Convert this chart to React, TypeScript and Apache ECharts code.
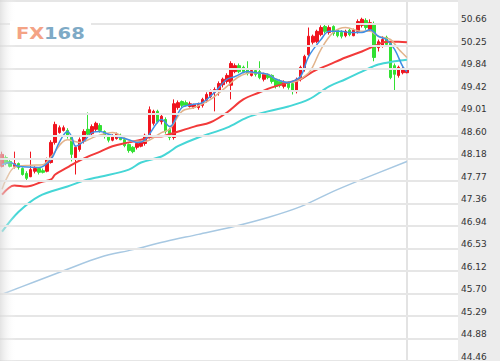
import React, { useEffect, useRef } from "react";
import * as echarts from "echarts";

// ---- data ----
const CATEGORY_COUNT = 112;
const categories: string[] = Array.from({ length: CATEGORY_COUNT }, (_, i) => `D${i + 1}`);

// [open, close, low, high]
const ohlc: number[][] = [
  [48.04, 48.26, 48.02, 48.31], [48.20, 48.09, 48.06, 48.24], [48.13, 48.04, 48.02, 48.17], [48.04, 48.09, 48.00, 48.31],
  [48.09, 48.02, 47.98, 48.11], [48.00, 47.89, 47.87, 48.02], [47.91, 47.82, 47.78, 47.95], [47.85, 47.98, 47.84, 48.31],
  [47.95, 48.00, 47.91, 48.04], [48.00, 47.93, 47.89, 48.02], [47.96, 47.93, 47.91, 48.00], [47.95, 48.17, 47.93, 48.20],
  [48.11, 48.48, 48.09, 48.52], [48.48, 48.81, 48.44, 48.86], [48.66, 48.75, 48.64, 48.79], [48.70, 48.75, 48.68, 48.79],
  [48.70, 48.59, 48.55, 48.74], [48.57, 48.26, 48.13, 48.61], [48.20, 48.39, 47.89, 48.42], [48.35, 48.53, 48.31, 48.57],
  [48.50, 48.68, 48.46, 48.72], [48.72, 48.63, 48.59, 49.03], [48.64, 48.77, 48.61, 48.81], [48.72, 48.83, 48.68, 48.86],
  [48.79, 48.70, 48.66, 48.83], [48.68, 48.59, 48.55, 48.70], [48.61, 48.52, 48.48, 48.64], [48.52, 48.59, 48.50, 48.63],
  [48.55, 48.63, 48.53, 48.66], [48.61, 48.53, 48.52, 48.64], [48.53, 48.42, 48.39, 48.57], [48.44, 48.33, 48.29, 48.46],
  [48.39, 48.31, 48.28, 48.41], [48.39, 48.46, 48.35, 48.50], [48.41, 48.48, 48.39, 48.52], [48.46, 48.61, 48.42, 48.64],
  [48.57, 49.08, 48.55, 49.14], [48.83, 49.05, 48.79, 49.08], [49.05, 48.86, 48.83, 49.08], [48.86, 48.96, 48.81, 48.99],
  [48.90, 48.68, 48.64, 48.94], [48.72, 48.57, 48.52, 48.75], [48.57, 49.19, 48.53, 49.27], [49.12, 49.21, 49.08, 49.25],
  [49.23, 49.16, 49.12, 49.25], [49.21, 49.16, 49.14, 49.25], [49.14, 49.19, 49.12, 49.23], [49.12, 49.18, 49.10, 49.19],
  [49.12, 49.18, 49.08, 49.21], [49.16, 49.27, 49.12, 49.30], [49.25, 49.36, 49.21, 49.40], [49.32, 49.42, 49.29, 49.45],
  [49.40, 49.45, 49.05, 49.49], [49.42, 49.56, 49.34, 49.60], [49.54, 49.64, 49.49, 49.67], [49.60, 49.71, 49.56, 49.75],
  [49.53, 49.93, 49.27, 49.97], [49.78, 49.89, 49.75, 49.93], [49.89, 49.78, 49.75, 49.93], [49.86, 49.78, 49.75, 49.89],
  [49.82, 49.75, 49.71, 49.97], [49.71, 49.80, 49.69, 49.84], [49.80, 49.73, 49.69, 49.82], [49.78, 49.67, 49.64, 49.97],
  [49.64, 49.73, 49.60, 49.76], [49.73, 49.67, 49.64, 49.75], [49.71, 49.60, 49.56, 49.73], [49.64, 49.51, 49.47, 49.65],
  [49.60, 49.53, 49.49, 49.64], [49.51, 49.58, 49.47, 49.62], [49.58, 49.49, 49.45, 49.60], [49.56, 49.42, 49.36, 49.60],
  [49.42, 49.64, 49.38, 49.67], [49.64, 49.86, 49.60, 49.89], [49.82, 50.06, 49.78, 50.09], [50.09, 50.43, 50.06, 50.59],
  [50.32, 50.43, 50.28, 50.46], [50.33, 50.52, 50.30, 50.55], [50.46, 50.59, 50.43, 50.63], [50.61, 50.52, 50.48, 50.65],
  [50.50, 50.59, 50.46, 50.63], [50.61, 50.48, 50.44, 50.63], [50.54, 50.44, 50.41, 50.55], [50.50, 50.43, 50.39, 50.54],
  [50.44, 50.52, 50.41, 50.55], [50.54, 50.46, 50.43, 50.57], [50.44, 50.54, 50.43, 50.57], [50.52, 50.70, 50.48, 50.74],
  [50.63, 50.74, 50.59, 50.77], [50.72, 50.59, 50.55, 50.76], [50.55, 50.68, 50.52, 50.74], [50.66, 50.04, 49.97, 50.70],
  [50.22, 50.33, 50.15, 50.37], [50.26, 50.37, 50.22, 50.43], [50.41, 50.28, 50.24, 50.44], [50.30, 49.67, 49.64, 50.33],
  [49.89, 49.73, 49.42, 49.93], [49.71, 49.86, 49.67, 49.89], [49.76, 49.82, 49.73, 49.86], [49.76, 49.82, 49.75, 49.84],
];

// moving averages as [category index, value]
const maBlue: number[][] = [
  [0, 48.07], [2, 48.11], [4, 48.04], [9, 48.02], [12, 48.17], [14, 48.48], [16, 48.68], [17, 48.59], [18, 48.41],
  [20, 48.5], [22, 48.66], [24, 48.68], [26, 48.63], [31, 48.53], [33, 48.48], [35, 48.53], [38, 48.85], [39, 48.9],
  [41, 48.77], [44, 49.12], [47, 49.18], [49, 49.21], [52, 49.4], [55, 49.64], [57, 49.69], [60, 49.78], [62, 49.76],
  [65, 49.73], [67, 49.64], [70, 49.58], [71, 49.6], [73, 49.69], [75, 50.06], [78, 50.37], [80, 50.52], [83, 50.52],
  [85, 50.5], [88, 50.5], [90, 50.55], [92, 50.43], [94, 50.37], [96, 50.19], [98, 49.87], [99, 49.78],
];
const maTan: number[][] = [
  [0, 47.62], [1, 47.8], [3, 48.02], [7, 48.06], [10, 48.07], [12, 48.22], [16, 48.53], [19, 48.48], [23, 48.59],
  [27, 48.66], [32, 48.5], [35, 48.5], [39, 48.66], [41, 48.72], [44, 49.05], [47, 49.12], [51, 49.27], [55, 49.51],
  [58, 49.69], [61, 49.76], [65, 49.73], [67, 49.64], [70, 49.58], [72, 49.6], [75, 49.76], [76, 49.87], [78, 50.19],
  [81, 50.5], [84, 50.59], [88, 50.52], [90, 50.52], [92, 50.43], [95, 50.37], [97, 50.19], [99, 50.04],
];
const maRed: number[][] = [
  [0, 47.52], [3, 47.69], [6, 47.67], [10, 47.76], [12, 47.8], [13, 47.89], [16, 48.02], [18, 48.11], [21, 48.22],
  [24, 48.31], [27, 48.41], [31, 48.48], [34, 48.53], [37, 48.59], [39, 48.59], [41, 48.63], [47, 48.77], [51, 48.85],
  [55, 49.03], [59, 49.27], [63, 49.4], [66, 49.49], [70, 49.58], [73, 49.64], [76, 49.78], [80, 49.91], [84, 50.04],
  [88, 50.15], [92, 50.28], [94, 50.33], [97, 50.33], [99, 50.32],
];
const maCyan: number[][] = [
  [0, 46.84], [4, 47.2], [9, 47.49], [16, 47.67], [21, 47.8], [24, 47.85], [31, 47.98], [34, 48.11], [39, 48.22],
  [41, 48.31], [43, 48.41], [48, 48.57], [55, 48.75], [60, 48.94], [65, 49.05], [70, 49.14], [75, 49.27], [80, 49.51],
  [84, 49.64], [88, 49.78], [92, 49.91], [96, 49.97], [99, 50.0],
];
const maLong: number[][] = [
  [0, 45.69], [8, 45.92], [16, 46.15], [24, 46.37], [32, 46.51], [40, 46.66], [48, 46.79], [57, 46.94], [65, 47.1],
  [73, 47.3], [81, 47.58], [88, 47.8], [99, 48.13],
];

const Y_MIN = 44.464;
const Y_STEP = 6.2 / 15;
const Y_TICKS = 16;

const UP = "#f0141e";
const DOWN = "#33e033";

function lineSeries(data: number[][], color: string, width: number) {
  return {
    type: "line",
    data,
    smooth: 0.35,
    symbol: "none",
    silent: true,
    z: 3,
    lineStyle: { color, width },
  };
}

export default function App() {
  const ref = useRef<HTMLDivElement>(null);
  useEffect(() => {
    if (!ref.current) return;
    const chart = echarts.init(ref.current, undefined, { renderer: "svg" });
    chart.setOption({
      animation: false,
      backgroundColor: "#ffffff",
      grid: { left: 0, right: 42, top: 1, bottom: 0, containLabel: false },
      xAxis: {
        type: "category",
        data: categories,
        boundaryGap: true,
        show: false,
      },
      yAxis: {
        type: "value",
        position: "right",
        min: Y_MIN,
        max: Y_MIN + Y_TICKS * Y_STEP,
        interval: Y_STEP,
        z: 10,
        axisLine: { show: false },
        axisTick: { show: false },
        splitLine: { show: true, lineStyle: { color: "#e6e6e6", width: 2 } },
        axisLabel: {
          show: true,
          inside: false,
          margin: 3,
          align: "left",
          verticalAlign: "bottom",
          showMaxLabel: false,
          color: "#333333",
          fontSize: 9,
          fontFamily: "Tahoma, 'DejaVu Sans', sans-serif",
          formatter: (v: number) => v.toFixed(2),
        },
      },
      graphic: [
        { type: "rect", z: -1, shape: { x: 458, y: 0, width: 42, height: 361 }, style: { fill: "#ececec" } },
        { type: "line", z: 1, shape: { x1: 407, y1: 0, x2: 407, y2: 361 }, style: { stroke: "#e3e3e3", lineWidth: 2 } },
        {
          type: "rect",
          z: 100,
          shape: { x: 0, y: 0, width: 16, height: 361 },
          style: {
            fill: new echarts.graphic.LinearGradient(0, 0, 1, 0, [
              { offset: 0, color: "rgba(215,215,215,0.7)" },
              { offset: 1, color: "rgba(255,255,255,0)" },
            ]),
          },
        },
        { type: "rect", z: 100, shape: { x: 10, y: 21, width: 81, height: 24 }, style: { fill: "#ffffff" } },
        {
          type: "text",
          z: 101,
          x: 16,
          y: 25,
          scaleX: 1.22,
          style: { text: "FX", fill: "#f4a385", font: "bold 16px 'DejaVu Sans', sans-serif" },
        },
        {
          type: "text",
          z: 101,
          x: 44,
          y: 25,
          scaleX: 1.22,
          style: { text: "168", fill: "#7eaac6", font: "bold 16px 'DejaVu Sans', sans-serif" },
        },
      ],
      series: [
        lineSeries(maLong, "#a7c8e2", 1.5),
        lineSeries(maCyan, "#45d6d6", 2),
        lineSeries(maRed, "#f23a3a", 2),
        {
          type: "candlestick",
          data: ohlc,
          barWidth: 3,
          z: 2,
          silent: true,
          itemStyle: {
            color: UP,
            color0: DOWN,
            borderColor: UP,
            borderColor0: DOWN,
            borderWidth: 1,
          },
        },
        lineSeries(maTan, "#e2b48c", 1.5),
        lineSeries(maBlue, "#3f8fe6", 1.5),
      ],
    });
    return () => chart.dispose();
  }, []);
  return (
    <div
      ref={ref}
      style={{ position: "absolute", left: 0, top: 0, width: 500, height: 361 }}
    />
  );
}
